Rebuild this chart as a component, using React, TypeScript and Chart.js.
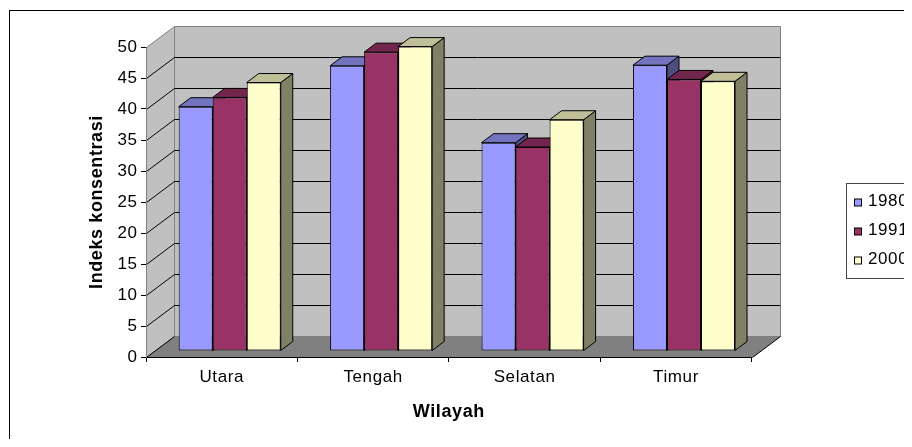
import React, { useEffect, useRef } from 'react';
import { Chart, registerables } from 'chart.js';

Chart.register(...registerables);

const categories = ['Utara', 'Tengah', 'Selatan', 'Timur'];
const seriesLabels = ['1980', '1991', '2000'];
const values1980 = [39.4, 46.0, 33.6, 46.1];
const values1991 = [40.9, 48.2, 32.9, 43.8];
const values2000 = [43.3, 49.1, 37.3, 43.5];
const yMin = 0;
const yMax = 50;
const yStep = 5;
const xTitle = 'Wilayah';
const yTitle = 'Indeks konsentrasi';

const seriesValues = [values1980, values1991, values2000];
const frontColors = ['#9999FF', '#993366', '#FFFFCC'];
const topColors = ['#7373BF', '#73264D', '#BFBF99'];
const sideColors = ['#4D4D80', '#4D1A33', '#808066'];

const FONT = '"Liberation Sans", Arial, sans-serif';
const LS = '0.6px';
const W = 904;
const H = 439;
// 3D offsets
const BACK_DX = 28;
const BACK_DY = -21;
const BAR_DX = 8;
const BAR_DY = -6;
const DEPTH_DX = 12;
const DEPTH_DY = -9;

function poly(ctx: CanvasRenderingContext2D, pts: number[][], fill: string | null, stroke: string | null) {
  ctx.beginPath();
  ctx.moveTo(pts[0][0], pts[0][1]);
  for (let i = 1; i < pts.length; i++) ctx.lineTo(pts[i][0], pts[i][1]);
  ctx.closePath();
  if (fill) {
    ctx.fillStyle = fill;
    ctx.fill();
  }
  if (stroke) {
    ctx.strokeStyle = stroke;
    ctx.lineWidth = 1;
    ctx.stroke();
  }
}

function line(ctx: CanvasRenderingContext2D, pts: number[][], color: string) {
  ctx.beginPath();
  ctx.moveTo(pts[0][0], pts[0][1]);
  for (let i = 1; i < pts.length; i++) ctx.lineTo(pts[i][0], pts[i][1]);
  ctx.strokeStyle = color;
  ctx.lineWidth = 1;
  ctx.stroke();
}

const threeD = {
  id: 'threeD',
  beforeDraw(chart: any) {
    const { ctx, chartArea: a, scales } = chart;
    (ctx as any).letterSpacing = LS;
    const ys = scales.y;
    ctx.save();
    ctx.fillStyle = '#FFFFFF';
    ctx.fillRect(0, 0, chart.width, chart.height);
    // outer frame
    ctx.strokeStyle = '#000';
    ctx.lineWidth = 1;
    ctx.strokeRect(1.5, 2.5, chart.width + 50, chart.height + 50);

    const L = Math.round(a.left) + 0.5;
    const R = Math.round(a.right) + 0.5;
    const T = Math.round(ys.getPixelForValue(yMax)) + 0.5;
    const B = Math.round(ys.getPixelForValue(yMin)) + 0.5;

    // back wall
    poly(ctx, [[L + BACK_DX, T + BACK_DY], [R + BACK_DX, T + BACK_DY], [R + BACK_DX, B + BACK_DY], [L + BACK_DX, B + BACK_DY]], '#C0C0C0', '#808080');
    // side wall
    poly(ctx, [[L, B], [L + BACK_DX, B + BACK_DY], [L + BACK_DX, T + BACK_DY], [L, T]], '#C0C0C0', '#808080');
    // floor
    poly(ctx, [[L, B], [R, B], [R + BACK_DX, B + BACK_DY], [L + BACK_DX, B + BACK_DY]], '#808080', null);

    // gridlines on side and back wall
    for (const t of ys.ticks) {
      const v = t.value;
      if (v >= yMax) continue;
      const py = Math.round(ys.getPixelForValue(v)) + 0.5;
      if (v === yMin) {
        line(ctx, [[L, py], [L + BACK_DX, py + BACK_DY]], '#000');
      } else {
        line(ctx, [[L, py], [L + BACK_DX, py + BACK_DY], [R + BACK_DX, py + BACK_DY]], '#000');
      }
    }
    // floor right edge
    line(ctx, [[R, B], [R + BACK_DX, B + BACK_DY]], '#000');
    ctx.restore();
  },
  beforeDatasetsDraw(chart: any) {
    const { ctx } = chart;
    ctx.save();
    ctx.lineWidth = 1;
    const n = chart.data.labels.length;
    for (let j = 0; j < n; j++) {
      chart.data.datasets.forEach((_ds: any, i: number) => {
        const el = chart.getDatasetMeta(i).data[j];
        if (!el) return;
        const p = el.getProps(['x', 'y', 'base', 'width'], true);
        const left = p.x - p.width / 2 + BAR_DX;
        const right = p.x + p.width / 2 + BAR_DX;
        const top = Math.min(p.y, p.base) + BAR_DY;
        const bottom = Math.max(p.y, p.base) + BAR_DY;
        // side face
        poly(ctx, [[right, top], [right + DEPTH_DX, top + DEPTH_DY], [right + DEPTH_DX, bottom + DEPTH_DY], [right, bottom]], sideColors[i], '#000');
        // top face
        poly(ctx, [[left, top], [right, top], [right + DEPTH_DX, top + DEPTH_DY], [left + DEPTH_DX, top + DEPTH_DY]], topColors[i], '#000');
      });
    }
    ctx.restore();
    ctx.save();
    ctx.translate(BAR_DX, BAR_DY);
  },
  afterDatasetsDraw(chart: any) {
    chart.ctx.restore();
  },
  afterDraw(chart: any) {
    const { ctx } = chart;
    ctx.save();
    (ctx as any).letterSpacing = LS;
    // legend box
    const lx = 838.5;
    const ly = 175.5;
    const lh = 95;
    ctx.strokeStyle = '#444';
    ctx.lineWidth = 1;
    ctx.strokeRect(lx, ly, 200, lh);
    ctx.font = `17px ${FONT}`;
    ctx.textBaseline = 'middle';
    ctx.textAlign = 'left';
    chart.data.datasets.forEach((ds: any, i: number) => {
      const cy = 194.5 + i * 29;
      ctx.fillStyle = frontColors[i];
      ctx.fillRect(846.5, cy - 3.5, 7, 7);
      ctx.strokeStyle = '#000';
      ctx.strokeRect(846.5, cy - 3.5, 7, 7);
      ctx.fillStyle = '#000';
      ctx.fillText(ds.label, 860, cy - 1.5);
    });
    ctx.restore();
  },
};

export default function App() {
  const ref = useRef<HTMLCanvasElement | null>(null);

  useEffect(() => {
    if (!ref.current) return;
    Chart.defaults.font.family = FONT;
    Chart.defaults.color = '#000';
    const chart = new Chart(ref.current, {
      type: 'bar',
      data: {
        labels: categories,
        datasets: seriesLabels.map((label, i) => ({
          label,
          data: seriesValues[i],
          backgroundColor: frontColors[i],
          borderColor: '#000',
          borderWidth: 1,
          borderSkipped: false,
          clip: false as any,
          barPercentage: 1,
          categoryPercentage: 0.674,
        })),
      },
      options: {
        responsive: false,
        animation: false,
        devicePixelRatio: 1,
        layout: { padding: { left: 0, top: 39, right: W - 743.7, bottom: 20 } },
        plugins: {
          legend: { display: false },
          tooltip: { enabled: false },
        },
        scales: {
          x: {
            grid: { display: true, drawOnChartArea: false, drawTicks: true, tickLength: 5, color: '#000', offset: true },
            border: { display: true, color: '#000', width: 1 },
            ticks: { font: { family: FONT, size: 17 }, color: '#000', padding: 4.8, maxRotation: 0, autoSkip: false },
            title: {
              display: true,
              text: xTitle,
              font: { family: FONT, size: 18, weight: 'bold' },
              color: '#000',
              padding: { top: 0, bottom: 3.7 },
            },
            afterFit(axis: any) {
              axis.height = 70;
            },
          },
          y: {
            min: yMin,
            max: yMax,
            ticks: { stepSize: yStep, font: { family: FONT, size: 17 }, color: '#000', padding: 3.4 },
            grid: { display: true, drawOnChartArea: false, drawTicks: true, tickLength: 5, color: '#000' },
            border: { display: true, color: '#808080', width: 1 },
            title: {
              display: true,
              text: yTitle,
              font: { family: FONT, size: 18, weight: 'bold' },
              color: '#000',
              padding: { top: 78.7, bottom: 0 },
            },
            afterFit(axis: any) {
              axis.width = 138;
            },
          },
        },
      } as any,
      plugins: [threeD],
    });
    return () => chart.destroy();
  }, []);

  return (
    <div style={{ width: W, height: H, overflow: 'hidden', marginBottom: -8 }}>
      <canvas ref={ref} width={W} height={H} style={{ display: 'block' }} />
    </div>
  );
}
